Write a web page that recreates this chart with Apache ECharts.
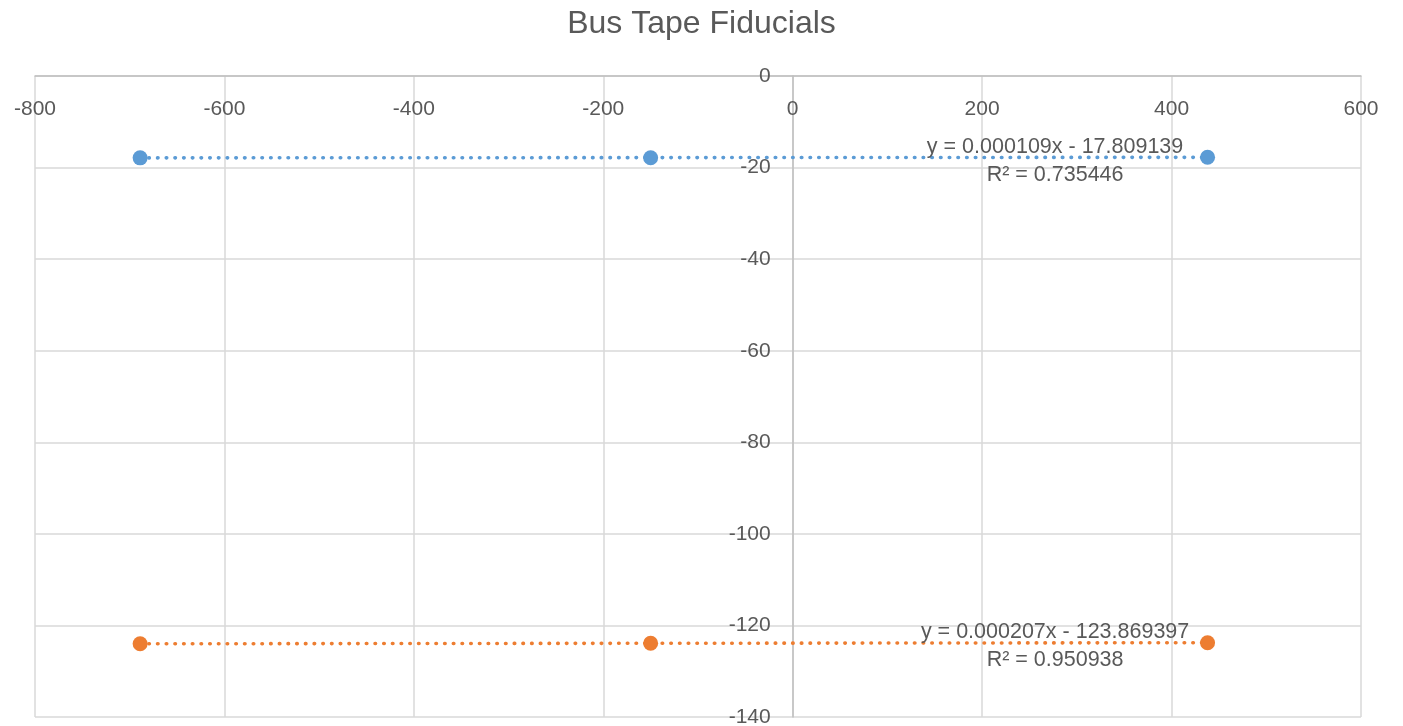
<!DOCTYPE html>
<html>
<head>
<meta charset="utf-8">
<script src="https://cdn.jsdelivr.net/npm/echarts@6/dist/echarts.min.js"></script>
<style>
html,body{margin:0;padding:0;background:#fff;}
#chart{width:1403px;height:726px;}
</style>
</head>
<body>
<div id="chart"></div>
<script>
const titleText = 'Bus Tape Fiducials';
const xValues = [-689, -150, 438];
const blueY = [-17.88, -17.84, -17.76];
const orangeY = [-124.01, -123.90, -123.78];
const blueTrend = { slope: 0.000109, intercept: -17.809139, r2: '0.735446' };
const orangeTrend = { slope: 0.000207, intercept: -123.869397, r2: '0.950938' };
const xTicks = [-800, -600, -400, -200, 0, 200, 400, 600];
const yTicks = [0, -20, -40, -60, -80, -100, -120, -140];

const FONT = 'Liberation Sans, Arial, sans-serif';
const TXT = '#595959';
const BLUE = '#5B9BD5', ORANGE = '#ED7D31';
const GRID = { left: 35, right: 42, top: 76, bottom: 9 };

function pts(ys){ return xValues.map((x,i)=>[x, ys[i]]); }
function trend(t){
  const x0 = Math.min(...xValues), x1 = Math.max(...xValues);
  return [[x0, t.slope*x0 + t.intercept],[x1, t.slope*x1 + t.intercept]];
}
function eqText(t){
  const s = t.intercept < 0 ? ' - ' : ' + ';
  return 'y = ' + t.slope.toFixed(6) + 'x' + s + Math.abs(t.intercept).toFixed(6);
}

const chart = echarts.init(document.getElementById('chart'));
const trendStyle = (c)=>({ color: c, width: 3.6, type: [0.5, 8.2], cap: 'round' });

chart.setOption({
  animation: false,
  title: { text: titleText, left: 'center', top: 3,
    textStyle: { fontFamily: FONT, fontSize: 32, fontWeight: 'normal', color: TXT } },
  grid: Object.assign({ containLabel: false, outerBoundsMode: 'none' }, GRID),
  xAxis: {
    type: 'value', min: xTicks[0], max: xTicks[xTicks.length-1], interval: 200,
    position: 'top',
    axisLine: { onZero: false, lineStyle: { color: '#bfbfbf', width: 1.5 } },
    axisTick: { show: false },
    axisLabel: { inside: true, margin: 23, color: TXT, fontFamily: FONT, fontSize: 21 },
    splitLine: { show: true, lineStyle: { color: '#d9d9d9', width: 1.5 } }
  },
  yAxis: {
    type: 'value', min: yTicks[yTicks.length-1], max: yTicks[0], interval: 20,
    position: 'left', offset: 0,
    axisLine: { onZero: false, lineStyle: { color: '#bfbfbf', width: 1.5 } },
    axisTick: { show: false },
    axisLabel: { margin: 22, color: TXT, fontFamily: FONT, fontSize: 21 },
    splitLine: { show: true, lineStyle: { color: '#d9d9d9', width: 1.5 } }
  },
  series: [
    { type: 'line', data: trend(blueTrend), symbol: 'none', lineStyle: trendStyle(BLUE), z: 2, silent: true },
    { type: 'line', data: trend(orangeTrend), symbol: 'none', lineStyle: trendStyle(ORANGE), z: 2, silent: true },
    { type: 'scatter', data: pts(blueY), symbolSize: 15, itemStyle: { color: BLUE, opacity: 1 }, z: 3 },
    { type: 'scatter', data: pts(orangeY), symbolSize: 15, itemStyle: { color: ORANGE, opacity: 1 }, z: 3 }
  ]
});

// Put the y axis at x = 0 (Excel style crossing)
const zeroPx = chart.convertToPixel({ gridIndex: 0 }, [0, 0]);
chart.setOption({ yAxis: { offset: -(zeroPx[0] - GRID.left) } });

function addLabels(){
  const labelX = 277;
  const items = [];
  const place = (t, y1, y2) => {
    const p1 = chart.convertToPixel({ gridIndex: 0 }, [labelX, y1]);
    const p2 = chart.convertToPixel({ gridIndex: 0 }, [labelX, y2]);
    items.push({ type: 'text', x: p1[0], y: p1[1], z: 10,
      style: { text: eqText(t), fill: TXT, font: '21.5px ' + FONT, align: 'center', verticalAlign: 'middle' } });
    items.push({ type: 'text', x: p2[0], y: p2[1], z: 10,
      style: { text: 'R\u00B2 = ' + t.r2, fill: TXT, font: '21.5px ' + FONT, align: 'center', verticalAlign: 'middle' } });
  };
  place(blueTrend, -15.55, -21.65);
  place(orangeTrend, -121.45, -127.55);
  chart.setOption({ graphic: items });
}
addLabels();
</script>
</body>
</html>
